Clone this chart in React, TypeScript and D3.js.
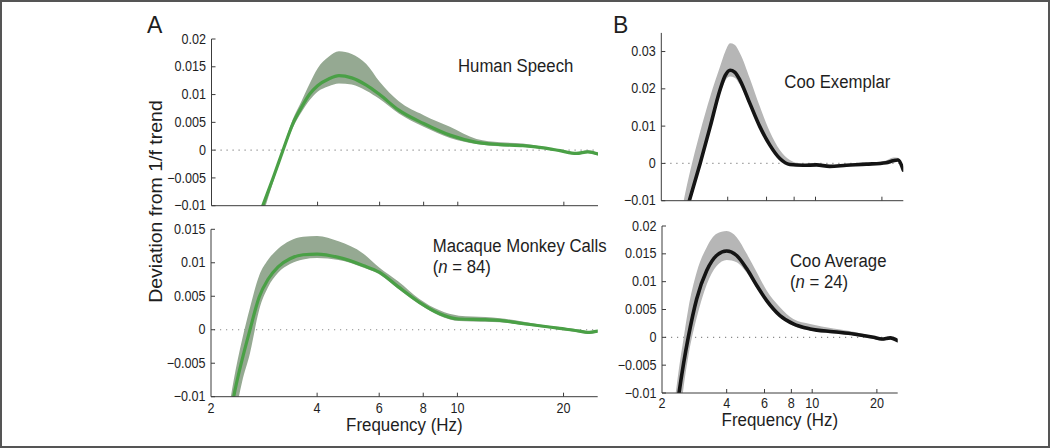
import React from "react";
import * as d3 from "d3";

// ---------- data ----------
const xTickValues = [2, 4, 6, 8, 10, 20];
const xDomain = [2, 25];

// Panel A (top): Human Speech
const humanFreq = [2.6, 2.8, 3.0, 3.2, 3.4, 3.6, 3.8, 4.0, 4.3, 4.6, 5.0, 5.5, 6.0, 6.8, 8.0, 9.5, 11.3, 13.2, 15.3, 17.5, 19.5, 21.7, 23.4, 25];
const humanMean = [-0.0155, -0.0099, -0.0048, 0.0002, 0.0047, 0.0077, 0.0101, 0.0116, 0.0128, 0.0134, 0.0130, 0.0117, 0.0100, 0.0072, 0.0048, 0.0027, 0.0014, 0.0010, 0.0008, 0.0004, -0.0001, -0.0006, -0.0003, -0.0007];
const humanUpper = [-0.0150, -0.0095, -0.0044, 0.0006, 0.0055, 0.0088, 0.0120, 0.0147, 0.0168, 0.0178, 0.0173, 0.0155, 0.0123, 0.0088, 0.0063, 0.0042, 0.0020, 0.0014, 0.0012, 0.0006, 0.0001, -0.0004, 0.0000, -0.0005];
const humanLower = [-0.0175, -0.0115, -0.0055, -0.0002, 0.0040, 0.0068, 0.0090, 0.0105, 0.0115, 0.0120, 0.0118, 0.0107, 0.0092, 0.0066, 0.0042, 0.0022, 0.0011, 0.0007, 0.0006, 0.0002, -0.0003, -0.0008, -0.0005, -0.0009];
const humanTicks = [-0.01, -0.005, 0, 0.005, 0.01, 0.015, 0.02];

// Panel A (bottom): Macaque Monkey Calls
const macaqueFreq = [2.2, 2.32, 2.45, 2.58, 2.74, 2.9, 3.1, 3.35, 3.65, 4.0, 4.6, 5.4, 6.0, 6.8, 7.8, 8.9, 10.1, 12.0, 13.2, 15.0, 17.1, 19.5, 22.2, 23.4, 25];
const macaqueMean = [-0.0175, -0.0100, -0.0045, 0.0000, 0.0049, 0.0075, 0.0094, 0.0106, 0.0112, 0.0113, 0.0108, 0.0096, 0.0086, 0.0064, 0.0041, 0.0024, 0.0016, 0.0015, 0.0014, 0.0010, 0.0006, 0.0002, -0.0002, -0.0004, -0.0002];
const macaqueUpper = [-0.0150, -0.0075, -0.0015, 0.0033, 0.0081, 0.0104, 0.0121, 0.0133, 0.0139, 0.0140, 0.0132, 0.0114, 0.0093, 0.0072, 0.0046, 0.0029, 0.0021, 0.0019, 0.0017, 0.0013, 0.0008, 0.0004, 0.0000, -0.0002, 0.0000];
const macaqueLower = [-0.0210, -0.0140, -0.0078, -0.0035, 0.0030, 0.0063, 0.0085, 0.0098, 0.0105, 0.0107, 0.0104, 0.0093, 0.0083, 0.0061, 0.0038, 0.0021, 0.0013, 0.0012, 0.0011, 0.0008, 0.0004, 0.0000, -0.0004, -0.0006, -0.0004];
const macaqueTicks = [-0.01, -0.005, 0, 0.005, 0.01, 0.015];

// Panel B (top): Coo Exemplar
const exemplarFreq = [2.4, 2.68, 3.0, 3.33, 3.69, 3.9, 4.1, 4.3, 4.55, 5.04, 5.6, 6.21, 6.89, 7.65, 8.79, 10.1, 11.6, 13.8, 17.0, 20.9, 22.5, 23.6, 25];
const exemplarMean = [-0.0195, -0.0100, 0.0000, 0.0098, 0.0197, 0.0236, 0.0250, 0.0245, 0.0223, 0.0161, 0.0098, 0.0049, 0.0013, -0.0003, -0.0005, -0.0004, -0.0008, -0.0005, -0.0002, 0.0002, 0.0007, 0.0009, -0.0018];
const exemplarUpper = [-0.0165, -0.0030, 0.0085, 0.0179, 0.0259, 0.0300, 0.0322, 0.0318, 0.0295, 0.0228, 0.0152, 0.0085, 0.0036, 0.0009, -0.0002, -0.0001, -0.0005, -0.0002, 0.0001, 0.0008, 0.0016, 0.0015, -0.0012];
const exemplarLower = [-0.0200, -0.0105, -0.0006, 0.0090, 0.0185, 0.0222, 0.0233, 0.0230, 0.0210, 0.0152, 0.0092, 0.0045, 0.0010, -0.0006, -0.0008, -0.0007, -0.0011, -0.0008, -0.0005, -0.0001, 0.0004, 0.0006, -0.0021];
const exemplarTicks = [-0.01, 0, 0.01, 0.02, 0.03];

// Panel B (bottom): Coo Average
const averageFreq = [2.25, 2.4, 2.52, 2.65, 2.9, 3.23, 3.59, 4.0, 4.45, 4.96, 5.52, 6.14, 7.08, 8.17, 9.78, 12.56, 15.6, 19.3, 21.1, 23.1, 25];
const averageMean = [-0.0185, -0.0100, -0.0047, 0.0000, 0.0069, 0.0120, 0.0147, 0.0155, 0.0147, 0.0123, 0.0093, 0.0066, 0.0039, 0.0024, 0.0015, 0.0010, 0.0006, 0.0000, -0.0003, -0.0001, -0.0006];
const averageUpper = [-0.0140, -0.0055, -0.0002, 0.0051, 0.0117, 0.0162, 0.0186, 0.0191, 0.0180, 0.0150, 0.0117, 0.0084, 0.0054, 0.0033, 0.0024, 0.0016, 0.0010, 0.0002, -0.0001, 0.0001, -0.0004];
const averageLower = [-0.0240, -0.0160, -0.0090, -0.0035, 0.0035, 0.0095, 0.0128, 0.0139, 0.0135, 0.0116, 0.0089, 0.0063, 0.0036, 0.0021, 0.0012, 0.0007, 0.0003, -0.0003, -0.0006, -0.0004, -0.0009];
const averageTicks = [-0.01, -0.005, 0, 0.005, 0.01, 0.015, 0.02];

// ---------- styling ----------
const FONT = "'Liberation Sans', Arial, Helvetica, sans-serif";
const TEXT = "#1e1e1e";
const AXIS = "#3c3c3c";
const SX = 0.9; // horizontal text compression of the reference

const fmt = (v: number) => (Math.abs(v) < 1e-12 ? "0" : d3.format("~g")(v));

type PanelProps = {
  id: string;
  left: number;
  right: number;
  top: number;
  bottom: number;
  yDomain: [number, number];
  yTicks: number[];
  freq: number[];
  mean: number[];
  upper: number[];
  lower: number[];
  bandColor: string;
  lineColor: string;
  lineWidth: number;
  showXLabels: boolean;
  xLabelDy: number;
};

function Panel(p: PanelProps) {
  const x = d3.scaleLog().domain(xDomain).range([p.left, p.right]);
  const y = d3.scaleLinear().domain(p.yDomain).range([p.bottom, p.top]);
  const pts = p.freq.map((f, i) => ({ f, m: p.mean[i], u: p.upper[i], l: p.lower[i] }));
  const area = d3
    .area<any>()
    .x((d) => x(d.f))
    .y0((d) => y(d.l))
    .y1((d) => y(d.u))
    .curve(d3.curveMonotoneX);
  const line = d3
    .line<any>()
    .x((d) => x(d.f))
    .y((d) => y(d.m))
    .curve(d3.curveMonotoneX);
  const clipId = `clip-${p.id}`;
  const tickLen = 4;
  return (
    <g>
      <defs>
        <clipPath id={clipId}>
          <rect x={p.left} y={p.top} width={p.right - p.left} height={p.bottom - p.top} />
        </clipPath>
      </defs>
      {/* zero reference */}
      <line
        x1={p.left + 3}
        x2={p.right}
        y1={y(0)}
        y2={y(0)}
        stroke="#8a8a8a"
        strokeWidth={1.2}
        strokeDasharray="1.2 4.8"
      />
      <g clipPath={`url(#${clipId})`}>
        <path d={area(pts) || ""} fill={p.bandColor} stroke="none" />
        <path
          d={line(pts) || ""}
          fill="none"
          stroke={p.lineColor}
          strokeWidth={p.lineWidth}
          strokeLinejoin="round"
          strokeLinecap="round"
        />
      </g>
      {/* axes */}
      <line x1={p.left} x2={p.left} y1={p.top} y2={p.bottom} stroke={AXIS} strokeWidth={1} />
      <line x1={p.left} x2={p.right} y1={p.bottom} y2={p.bottom} stroke={AXIS} strokeWidth={1} />
      {p.yTicks.map((t) => (
        <g key={`y${t}`}>
          <line x1={p.left} x2={p.left + tickLen} y1={y(t)} y2={y(t)} stroke={AXIS} strokeWidth={1} />
          <text
            transform={`translate(${p.left - 5.5},${y(t) + 4.6}) scale(${SX},1)`}
            textAnchor="end"
            fontSize={14}
            fontFamily={FONT}
            fill={TEXT}
          >
            {fmt(t)}
          </text>
        </g>
      ))}
      {xTickValues.map((t) => (
        <g key={`x${t}`}>
          {t !== 2 && (
            <line x1={x(t)} x2={x(t)} y1={p.bottom} y2={p.bottom - tickLen} stroke={AXIS} strokeWidth={1} />
          )}
          {p.showXLabels && (
            <text
              transform={`translate(${x(t)},${p.bottom + p.xLabelDy}) scale(${SX},1)`}
              textAnchor="middle"
              fontSize={14}
              fontFamily={FONT}
              fill={TEXT}
            >
              {t}
            </text>
          )}
        </g>
      ))}
      {p.showXLabels && (
        <text
          transform={`translate(${(p.left + p.right) / 2},${p.bottom + p.xLabelDy + 18.5}) scale(${SX},1)`}
          textAnchor="middle"
          fontSize={18.8}
          fontFamily={FONT}
          fill={TEXT}
        >
          Frequency (Hz)
        </text>
      )}
    </g>
  );
}

function Label({ x, y, lines }: { x: number; y: number; lines: React.ReactNode[] }) {
  return (
    <g>
      {lines.map((ln, i) => (
        <text
          key={i}
          transform={`translate(${x},${y + i * 21}) scale(${SX},1)`}
          fontSize={18.6}
          fontFamily={FONT}
          fill={TEXT}
        >
          {ln}
        </text>
      ))}
    </g>
  );
}

export default function App() {
  const greenBand = "#95a992";
  const greenLine = "#4aa046";
  const grayBand = "#b6b6b6";
  const blackLine = "#141414";
  return (
    <svg
      width={1050}
      height={448}
      style={{ position: "absolute", left: 0, top: 0, background: "#fff" }}
    >
      <rect x={0} y={0} width={1050} height={448} fill="#fff" />
      <rect x={1} y={1} width={1048} height={446} fill="none" stroke="#555" strokeWidth={2} />

      <Panel
        id="a1"
        left={211.5}
        right={598}
        top={39}
        bottom={205.7}
        yDomain={[-0.01, 0.02]}
        yTicks={humanTicks}
        freq={humanFreq}
        mean={humanMean}
        upper={humanUpper}
        lower={humanLower}
        bandColor={greenBand}
        lineColor={greenLine}
        lineWidth={3.2}
        showXLabels={false}
        xLabelDy={16}
      />
      <Panel
        id="a2"
        left={211}
        right={597.7}
        top={229.3}
        bottom={396.7}
        yDomain={[-0.01, 0.015]}
        yTicks={macaqueTicks}
        freq={macaqueFreq}
        mean={macaqueMean}
        upper={macaqueUpper}
        lower={macaqueLower}
        bandColor={greenBand}
        lineColor={greenLine}
        lineWidth={3.2}
        showXLabels={true}
        xLabelDy={16}
      />
      <Panel
        id="b1"
        left={661.3}
        right={903.3}
        top={32.9}
        bottom={200.7}
        yDomain={[-0.01, 0.035]}
        yTicks={exemplarTicks}
        freq={exemplarFreq}
        mean={exemplarMean}
        upper={exemplarUpper}
        lower={exemplarLower}
        bandColor={grayBand}
        lineColor={blackLine}
        lineWidth={3.6}
        showXLabels={false}
        xLabelDy={15}
      />
      <Panel
        id="b2"
        left={662}
        right={897.7}
        top={226}
        bottom={393}
        yDomain={[-0.01, 0.02]}
        yTicks={averageTicks}
        freq={averageFreq}
        mean={averageMean}
        upper={averageUpper}
        lower={averageLower}
        bandColor={grayBand}
        lineColor={blackLine}
        lineWidth={3.6}
        showXLabels={true}
        xLabelDy={14.5}
      />

      <Label x={458} y={71.7} lines={["Human Speech"]} />
      <Label
        x={432.7}
        y={251.7}
        lines={[
          "Macaque Monkey Calls",
          <>
            (<tspan fontStyle="italic">n</tspan> = 84)
          </>,
        ]}
      />
      <Label x={784.3} y={88.3} lines={["Coo Exemplar"]} />
      <Label
        x={790}
        y={266.7}
        lines={[
          "Coo Average",
          <>
            (<tspan fontStyle="italic">n</tspan> = 24)
          </>,
        ]}
      />

      <text x={147} y={33.3} fontSize={23} fontFamily={FONT} fill={TEXT}>
        A
      </text>
      <text x={613} y={32.7} fontSize={23} fontFamily={FONT} fill={TEXT}>
        B
      </text>

      <text
        transform={`translate(161.5,201.5) scale(${SX},1) rotate(-90)`}
        textAnchor="middle"
        fontSize={19.5}
        fontFamily={FONT}
        fill={TEXT}
      >
        Deviation from 1/f trend
      </text>
    </svg>
  );
}
